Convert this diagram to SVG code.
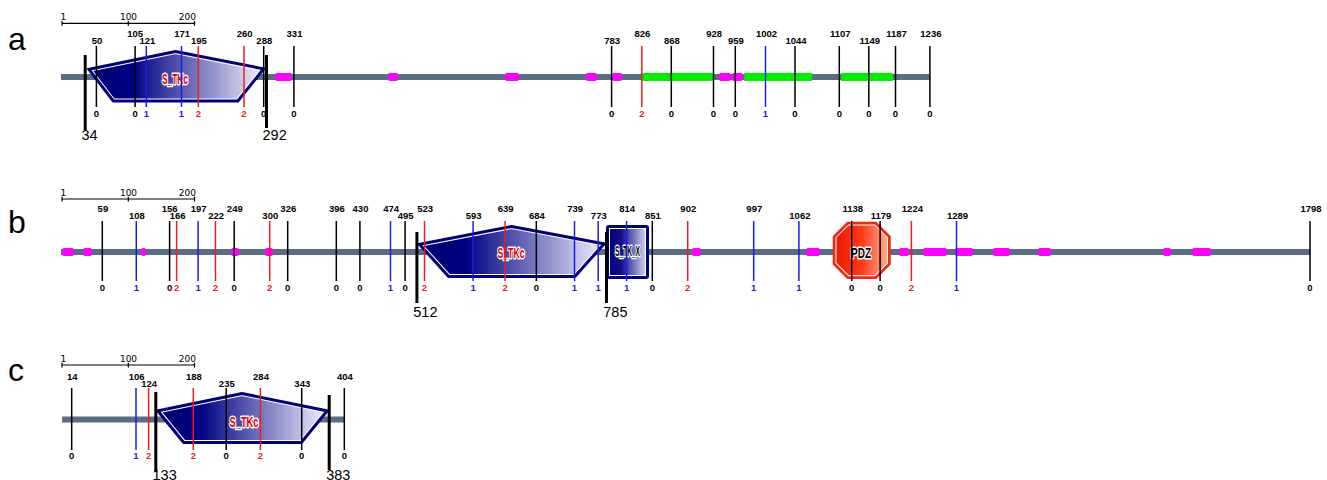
<svg xmlns="http://www.w3.org/2000/svg" width="1327" height="480" viewBox="0 0 1327 480">
<style>
.bb{fill:#5a6d84}
.mg{fill:#ff00ff}
.gr{fill:#00ee00}
.tk{stroke-width:1.5;fill:none}
.k{stroke:#000}
.bl{stroke:#1c1ce8}
.rd{stroke:#ee1c1c}
.th{stroke:#000;stroke-width:3}
.num{font-family:"Liberation Sans",Arial,sans-serif;font-weight:bold;font-size:9.5px;text-anchor:middle}
.nk{fill:#000}
.nb{fill:#1c1ce8}
.nr{fill:#ee1c1c}
.big{font-family:"Liberation Sans",Arial,sans-serif;font-size:14.5px;fill:#000}
.pl{font-family:"Liberation Sans",Arial,sans-serif;font-size:32px;fill:#000}
.sc{font-family:"DejaVu Sans",Verdana,sans-serif;font-size:9px;fill:#000}
.scl{stroke:#000;stroke-width:1.2}
.dl{font-family:"Liberation Sans",Arial,sans-serif;font-weight:bold;font-size:15px;text-anchor:middle;paint-order:stroke;stroke:#fff;stroke-width:3;stroke-linejoin:round}
.dred{fill:#e00000}
.dblk{fill:#000}
.navy{fill:none;stroke:#00007a}
</style>
<defs>
<linearGradient id="gB" x1="0" y1="0" x2="1" y2="0">
<stop offset="0" stop-color="#000070"/>
<stop offset="0.25" stop-color="#000082"/>
<stop offset="1" stop-color="#f2f2ff"/>
</linearGradient>
<linearGradient id="gX" x1="0" y1="0" x2="1" y2="0">
<stop offset="0" stop-color="#000078"/>
<stop offset="0.35" stop-color="#10108a"/>
<stop offset="1" stop-color="#e4e4fa"/>
</linearGradient>
<linearGradient id="gR" x1="0" y1="0" x2="1" y2="0">
<stop offset="0" stop-color="#e81800"/>
<stop offset="0.5" stop-color="#ff3a1a"/>
<stop offset="1" stop-color="#ffb8a0"/>
</linearGradient>
<clipPath id="cpa"><polygon points="88,69 175.5,51 264.5,68.5 238,101.5 113,101.5"/></clipPath>
<clipPath id="cpb"><polygon points="418.5,244 511.7,226 605,243.5 575,277 448.5,277"/></clipPath>
<clipPath id="cpc"><polygon points="157,410.5 242,393 328,410.5 301.5,443 183.5,443"/></clipPath>
<clipPath id="cpx"><rect x="607" y="226" width="41" height="52" rx="2"/></clipPath>
<clipPath id="cpp"><polygon points="847.5,222.5 876,222.5 890,236.5 890,264.2 876,278.2 847.5,278.2 833.5,264.2 833.5,236.5"/></clipPath>
</defs>

<!-- Panel a -->
<g id="panel-a">
<text class="pl" x="8" y="50">a</text>
<g id="scale-a">
<line class="scl" x1="62" y1="23.3" x2="195" y2="23.3"/>
<line class="scl" x1="62" y1="21" x2="62" y2="25.8"/>
<line class="scl" x1="128.3" y1="21" x2="128.3" y2="25.8"/>
<line class="scl" x1="194.5" y1="21" x2="194.5" y2="25.8"/>
<text class="sc" x="60.5" y="20">1</text>
<text class="sc" x="128.5" y="20" text-anchor="middle">100</text>
<text class="sc" x="196" y="20" text-anchor="end">200</text>
</g>
<rect class="bb" x="61" y="74" width="869" height="6"/>
<g id="features-a">
<rect class="mg" x="275" y="73" width="17" height="8" rx="2"/>
<rect class="mg" x="388" y="73" width="10" height="8" rx="2"/>
<rect class="mg" x="505" y="73" width="14" height="8" rx="2"/>
<rect class="mg" x="586" y="73" width="11" height="8" rx="2"/>
<rect class="mg" x="612" y="73" width="10" height="8" rx="2"/>
<rect class="mg" x="719" y="73" width="12" height="8" rx="2"/>
<rect class="mg" x="732" y="73" width="11" height="8" rx="2"/>
<rect class="gr" x="642" y="73" width="71" height="8" rx="1"/>
<rect class="gr" x="744" y="73" width="68" height="8" rx="1"/>
<rect class="gr" x="841" y="73" width="52" height="8" rx="1"/>
</g>
<g id="domain-a-STKc">
<polygon points="88,69 175.5,51 264.5,68.5 238,101.5 113,101.5" fill="url(#gB)"/>
<polygon points="88,69 175.5,51 264.5,68.5 238,101.5 113,101.5" fill="none" stroke="#fff" stroke-width="6" clip-path="url(#cpa)"/>
<polygon points="88,69 175.5,51 264.5,68.5 238,101.5 113,101.5" fill="none" stroke="#00007a" stroke-width="4" clip-path="url(#cpa)"/>
<polygon class="navy" points="88,69 175.5,51 264.5,68.5 238,101.5 113,101.5" stroke-width="2" stroke-linejoin="round"/>
<text class="dl dred" x="175" y="84" textLength="26" lengthAdjust="spacingAndGlyphs">S_TKc</text>
</g>
<g id="ticks-a">
<line class="tk k" x1="96.4" y1="46" x2="96.4" y2="107"/><text class="num nk" x="97" y="44">50</text><text class="num nk" x="96.4" y="116.7">0</text>
<line class="tk k" x1="135.1" y1="46" x2="135.1" y2="107"/><text class="num nk" x="135.2" y="37">105</text><text class="num nk" x="135.1" y="116.7">0</text>
<line class="tk bl" x1="146.3" y1="46" x2="146.3" y2="107"/><text class="num nk" x="147.4" y="44">121</text><text class="num nb" x="146.3" y="116.7">1</text>
<line class="tk bl" x1="181.5" y1="46" x2="181.5" y2="107"/><text class="num nk" x="182.1" y="37">171</text><text class="num nb" x="181.5" y="116.7">1</text>
<line class="tk rd" x1="198.3" y1="46" x2="198.3" y2="107"/><text class="num nk" x="198.9" y="44">195</text><text class="num nr" x="198.3" y="116.7">2</text>
<line class="tk rd" x1="244" y1="46" x2="244" y2="107"/><text class="num nk" x="244.6" y="37">260</text><text class="num nr" x="244" y="116.7">2</text>
<line class="tk k" x1="263.7" y1="46" x2="263.7" y2="107"/><text class="num nk" x="264.3" y="44">288</text><text class="num nk" x="263.7" y="116.7">0</text>
<line class="tk k" x1="293.9" y1="46" x2="293.9" y2="107"/><text class="num nk" x="294.5" y="37">331</text><text class="num nk" x="293.9" y="116.7">0</text>
<line class="tk k" x1="611.6" y1="46" x2="611.6" y2="107"/><text class="num nk" x="612.2" y="44">783</text><text class="num nk" x="611.6" y="116.7">0</text>
<line class="tk rd" x1="641.8" y1="46" x2="641.8" y2="107"/><text class="num nk" x="642.4" y="37">826</text><text class="num nr" x="641.8" y="116.7">2</text>
<line class="tk k" x1="671.3" y1="46" x2="671.3" y2="107"/><text class="num nk" x="671.9" y="44">868</text><text class="num nk" x="671.3" y="116.7">0</text>
<line class="tk k" x1="713.5" y1="46" x2="713.5" y2="107"/><text class="num nk" x="714.1" y="37">928</text><text class="num nk" x="713.5" y="116.7">0</text>
<line class="tk k" x1="735.3" y1="46" x2="735.3" y2="107"/><text class="num nk" x="735.9" y="44">959</text><text class="num nk" x="735.3" y="116.7">0</text>
<line class="tk bl" x1="765.5" y1="46" x2="765.5" y2="107"/><text class="num nk" x="766.5" y="37">1002</text><text class="num nb" x="765.5" y="116.7">1</text>
<line class="tk k" x1="795" y1="46" x2="795" y2="107"/><text class="num nk" x="796" y="44">1044</text><text class="num nk" x="795" y="116.7">0</text>
<line class="tk k" x1="839.3" y1="46" x2="839.3" y2="107"/><text class="num nk" x="840.3" y="37">1107</text><text class="num nk" x="839.3" y="116.7">0</text>
<line class="tk k" x1="868.8" y1="46" x2="868.8" y2="107"/><text class="num nk" x="869.8" y="44">1149</text><text class="num nk" x="868.8" y="116.7">0</text>
<line class="tk k" x1="895.5" y1="46" x2="895.5" y2="107"/><text class="num nk" x="896.5" y="37">1187</text><text class="num nk" x="895.5" y="116.7">0</text>
<line class="tk k" x1="929.9" y1="46" x2="929.9" y2="107"/><text class="num nk" x="930.9" y="37">1236</text><text class="num nk" x="929.9" y="116.7">0</text>
</g>
<g id="bounds-a">
<line class="th" x1="85.2" y1="55" x2="85.2" y2="130"/><text class="big" x="81.5" y="139.5">34</text>
<line class="th" x1="266.5" y1="55" x2="266.5" y2="128"/><text class="big" x="262.5" y="139.5">292</text>
</g>
</g>

<!-- Panel b -->
<g id="panel-b">
<text class="pl" x="8" y="233">b</text>
<g id="scale-b">
<line class="scl" x1="62" y1="199" x2="195" y2="199"/>
<line class="scl" x1="62" y1="196.7" x2="62" y2="201.5"/>
<line class="scl" x1="128.3" y1="196.7" x2="128.3" y2="201.5"/>
<line class="scl" x1="194.5" y1="196.7" x2="194.5" y2="201.5"/>
<text class="sc" x="60.5" y="195.7">1</text>
<text class="sc" x="128.5" y="195.7" text-anchor="middle">100</text>
<text class="sc" x="196" y="195.7" text-anchor="end">200</text>
</g>
<rect class="bb" x="61" y="249" width="1249" height="6"/>
<g id="features-b">
<rect class="mg" x="62" y="248" width="12" height="8" rx="2"/>
<rect class="mg" x="83" y="248" width="9" height="8" rx="2"/>
<rect class="mg" x="141" y="248" width="5" height="8" rx="2"/>
<rect class="mg" x="231" y="248" width="8" height="8" rx="2"/>
<rect class="mg" x="265" y="248" width="8" height="8" rx="2"/>
<rect class="mg" x="692" y="248" width="9" height="8" rx="2"/>
<rect class="mg" x="806" y="248" width="14" height="8" rx="2"/>
<rect class="mg" x="899" y="248" width="10" height="8" rx="2"/>
<rect class="mg" x="923" y="248" width="24" height="8" rx="2"/>
<rect class="mg" x="955" y="248" width="18" height="8" rx="2"/>
<rect class="mg" x="993" y="248" width="17" height="8" rx="2"/>
<rect class="mg" x="1038" y="248" width="13" height="8" rx="2"/>
<rect class="mg" x="1163" y="248" width="8" height="8" rx="2"/>
<rect class="mg" x="1192" y="248" width="19" height="8" rx="2"/>
</g>
<g id="domain-b-STKc">
<polygon points="418.5,244 511.7,226 605,243.5 575,277 448.5,277" fill="url(#gB)"/>
<polygon points="418.5,244 511.7,226 605,243.5 575,277 448.5,277" fill="none" stroke="#fff" stroke-width="6" clip-path="url(#cpb)"/>
<polygon points="418.5,244 511.7,226 605,243.5 575,277 448.5,277" fill="none" stroke="#00007a" stroke-width="4" clip-path="url(#cpb)"/>
<polygon class="navy" points="418.5,244 511.7,226 605,243.5 575,277 448.5,277" stroke-width="2" stroke-linejoin="round"/>
<text class="dl dred" x="511" y="258" textLength="27" lengthAdjust="spacingAndGlyphs">S_TKc</text>
</g>
<g id="domain-b-STKX">
<rect x="607" y="226" width="41" height="52" rx="2" fill="url(#gX)"/>
<rect x="607" y="226" width="41" height="52" rx="2" fill="none" stroke="#fff" stroke-width="6" clip-path="url(#cpx)"/>
<rect x="607" y="226" width="41" height="52" rx="2" fill="none" stroke="#00007a" stroke-width="4" clip-path="url(#cpx)"/>
<rect class="navy" x="607" y="226" width="41" height="52" rx="2" stroke-width="2"/>
<text class="dl dblk" x="627.5" y="256" font-size="13" textLength="25" lengthAdjust="spacingAndGlyphs">S_TK_X</text>
</g>
<g id="domain-b-PDZ">
<polygon points="847.5,222.5 876,222.5 890,236.5 890,264.2 876,278.2 847.5,278.2 833.5,264.2 833.5,236.5" fill="url(#gR)"/>
<polygon points="847.5,222.5 876,222.5 890,236.5 890,264.2 876,278.2 847.5,278.2 833.5,264.2 833.5,236.5" fill="none" stroke="#fff" stroke-width="6" clip-path="url(#cpp)"/>
<polygon points="847.5,222.5 876,222.5 890,236.5 890,264.2 876,278.2 847.5,278.2 833.5,264.2 833.5,236.5" fill="none" stroke="#f02a10" stroke-width="4" clip-path="url(#cpp)"/>
<polygon points="847.5,222.5 876,222.5 890,236.5 890,264.2 876,278.2 847.5,278.2 833.5,264.2 833.5,236.5" fill="none" stroke="#f02a10" stroke-width="1.5"/>
<text class="dl dblk" x="861" y="258" textLength="20" lengthAdjust="spacingAndGlyphs">PDZ</text>
</g>
<g id="ticks-b">
<line class="tk k" x1="102.3" y1="221" x2="102.3" y2="281"/><text class="num nk" x="102.9" y="212">59</text><text class="num nk" x="102.3" y="291">0</text>
<line class="tk bl" x1="136.3" y1="221" x2="136.3" y2="281"/><text class="num nk" x="136.9" y="219">108</text><text class="num nb" x="136.3" y="291">1</text>
<line class="tk k" x1="169.6" y1="221" x2="169.6" y2="281"/><text class="num nk" x="169.6" y="212">156</text><text class="num nk" x="169.6" y="291">0</text>
<line class="tk rd" x1="176.6" y1="221" x2="176.6" y2="281"/><text class="num nk" x="177.6" y="219">166</text><text class="num nr" x="176.6" y="291">2</text>
<line class="tk bl" x1="198.1" y1="221" x2="198.1" y2="281"/><text class="num nk" x="198.7" y="212">197</text><text class="num nb" x="198.1" y="291">1</text>
<line class="tk rd" x1="215.5" y1="221" x2="215.5" y2="281"/><text class="num nk" x="216.1" y="219">222</text><text class="num nr" x="215.5" y="291">2</text>
<line class="tk k" x1="234.2" y1="221" x2="234.2" y2="281"/><text class="num nk" x="234.8" y="212">249</text><text class="num nk" x="234.2" y="291">0</text>
<line class="tk rd" x1="269.7" y1="221" x2="269.7" y2="281"/><text class="num nk" x="270.3" y="219">300</text><text class="num nr" x="269.7" y="291">2</text>
<line class="tk k" x1="287.7" y1="221" x2="287.7" y2="281"/><text class="num nk" x="288.3" y="212">326</text><text class="num nk" x="287.7" y="291">0</text>
<line class="tk k" x1="336.3" y1="221" x2="336.3" y2="281"/><text class="num nk" x="336.9" y="212">396</text><text class="num nk" x="336.3" y="291">0</text>
<line class="tk k" x1="359.9" y1="221" x2="359.9" y2="281"/><text class="num nk" x="360.5" y="212">430</text><text class="num nk" x="359.9" y="291">0</text>
<line class="tk bl" x1="390.5" y1="221" x2="390.5" y2="281"/><text class="num nk" x="391.1" y="212">474</text><text class="num nb" x="390.5" y="291">1</text>
<line class="tk k" x1="405.1" y1="221" x2="405.1" y2="281"/><text class="num nk" x="405.7" y="219">495</text><text class="num nk" x="405.1" y="291">0</text>
<line class="tk rd" x1="424.5" y1="221" x2="424.5" y2="281"/><text class="num nk" x="425.1" y="212">523</text><text class="num nr" x="424.5" y="291">2</text>
<line class="tk bl" x1="473.1" y1="221" x2="473.1" y2="281"/><text class="num nk" x="473.7" y="219">593</text><text class="num nb" x="473.1" y="291">1</text>
<line class="tk rd" x1="505.1" y1="221" x2="505.1" y2="281"/><text class="num nk" x="505.7" y="212">639</text><text class="num nr" x="505.1" y="291">2</text>
<line class="tk k" x1="536.3" y1="221" x2="536.3" y2="281"/><text class="num nk" x="536.9" y="219">684</text><text class="num nk" x="536.3" y="291">0</text>
<line class="tk bl" x1="574.5" y1="221" x2="574.5" y2="281"/><text class="num nk" x="575.1" y="212">739</text><text class="num nb" x="574.5" y="291">1</text>
<line class="tk bl" x1="598.2" y1="221" x2="598.2" y2="281"/><text class="num nk" x="598.8" y="219">773</text><text class="num nb" x="598.2" y="291">1</text>
<line class="tk bl" x1="626.6" y1="221" x2="626.6" y2="281"/><text class="num nk" x="627.2" y="212">814</text><text class="num nb" x="626.6" y="291">1</text>
<line class="tk k" x1="652.3" y1="221" x2="652.3" y2="281"/><text class="num nk" x="652.9" y="219">851</text><text class="num nk" x="652.3" y="291">0</text>
<line class="tk rd" x1="687.7" y1="221" x2="687.7" y2="281"/><text class="num nk" x="688.3" y="212">902</text><text class="num nr" x="687.7" y="291">2</text>
<line class="tk bl" x1="753.7" y1="221" x2="753.7" y2="281"/><text class="num nk" x="754.3" y="212">997</text><text class="num nb" x="753.7" y="291">1</text>
<line class="tk bl" x1="798.9" y1="221" x2="798.9" y2="281"/><text class="num nk" x="799.9" y="219">1062</text><text class="num nb" x="798.9" y="291">1</text>
<line class="tk k" x1="851.7" y1="221" x2="851.7" y2="281"/><text class="num nk" x="852.7" y="212">1138</text><text class="num nk" x="851.7" y="291">0</text>
<line class="tk k" x1="880.1" y1="221" x2="880.1" y2="281"/><text class="num nk" x="881.1" y="219">1179</text><text class="num nk" x="880.1" y="291">0</text>
<line class="tk rd" x1="911.4" y1="221" x2="911.4" y2="281"/><text class="num nk" x="912.4" y="212">1224</text><text class="num nr" x="911.4" y="291">2</text>
<line class="tk bl" x1="956.5" y1="221" x2="956.5" y2="281"/><text class="num nk" x="957.5" y="219">1289</text><text class="num nb" x="956.5" y="291">1</text>
<line class="tk k" x1="1310" y1="221" x2="1310" y2="281"/><text class="num nk" x="1311" y="212">1798</text><text class="num nk" x="1310" y="291">0</text>
</g>
<g id="bounds-b">
<line class="th" x1="416.9" y1="232" x2="416.9" y2="303"/><text class="big" x="413.3" y="317">512</text>
<line class="th" x1="606.5" y1="232" x2="606.5" y2="303"/><text class="big" x="603.3" y="317">785</text>
</g>
</g>

<!-- Panel c -->
<g id="panel-c">
<text class="pl" x="8" y="381">c</text>
<g id="scale-c">
<line class="scl" x1="62" y1="365" x2="195" y2="365"/>
<line class="scl" x1="62" y1="362.7" x2="62" y2="367.5"/>
<line class="scl" x1="128.3" y1="362.7" x2="128.3" y2="367.5"/>
<line class="scl" x1="194.5" y1="362.7" x2="194.5" y2="367.5"/>
<text class="sc" x="60.5" y="361.7">1</text>
<text class="sc" x="128.5" y="361.7" text-anchor="middle">100</text>
<text class="sc" x="196" y="361.7" text-anchor="end">200</text>
</g>
<rect class="bb" x="62" y="416.5" width="282.3" height="6"/>
<g id="domain-c-STKc">
<polygon points="157,410.5 242,393 328,410.5 301.5,443 183.5,443" fill="url(#gB)"/>
<polygon points="157,410.5 242,393 328,410.5 301.5,443 183.5,443" fill="none" stroke="#fff" stroke-width="6" clip-path="url(#cpc)"/>
<polygon points="157,410.5 242,393 328,410.5 301.5,443 183.5,443" fill="none" stroke="#00007a" stroke-width="4" clip-path="url(#cpc)"/>
<polygon class="navy" points="157,410.5 242,393 328,410.5 301.5,443 183.5,443" stroke-width="2" stroke-linejoin="round"/>
<text class="dl dred" x="244" y="426.5" textLength="29" lengthAdjust="spacingAndGlyphs">S_TKc</text>
</g>
<g id="ticks-c">
<line class="tk k" x1="71.7" y1="388" x2="71.7" y2="450"/><text class="num nk" x="72.3" y="379.5">14</text><text class="num nk" x="71.7" y="458.5">0</text>
<line class="tk bl" x1="136" y1="388" x2="136" y2="450"/><text class="num nk" x="136.6" y="379.5">106</text><text class="num nb" x="136" y="458.5">1</text>
<line class="tk rd" x1="148.6" y1="388" x2="148.6" y2="450"/><text class="num nk" x="149.2" y="386.5">124</text><text class="num nr" x="148.6" y="458.5">2</text>
<line class="tk rd" x1="193.3" y1="388" x2="193.3" y2="450"/><text class="num nk" x="193.9" y="379.5">188</text><text class="num nr" x="193.3" y="458.5">2</text>
<line class="tk k" x1="226.2" y1="388" x2="226.2" y2="450"/><text class="num nk" x="226.8" y="386.5">235</text><text class="num nk" x="226.2" y="458.5">0</text>
<line class="tk rd" x1="260.4" y1="388" x2="260.4" y2="450"/><text class="num nk" x="261" y="379.5">284</text><text class="num nr" x="260.4" y="458.5">2</text>
<line class="tk k" x1="301.7" y1="388" x2="301.7" y2="450"/><text class="num nk" x="302.3" y="386.5">343</text><text class="num nk" x="301.7" y="458.5">0</text>
<line class="tk k" x1="344.3" y1="388" x2="344.3" y2="450"/><text class="num nk" x="344.9" y="379.5">404</text><text class="num nk" x="344.3" y="458.5">0</text>
</g>
<g id="bounds-c">
<line class="th" x1="155.8" y1="392" x2="155.8" y2="472"/><text class="big" x="152.5" y="479.5">133</text>
<line class="th" x1="329.2" y1="395" x2="329.2" y2="470"/><text class="big" x="326.2" y="479.5">383</text>
</g>
</g>
</svg>
